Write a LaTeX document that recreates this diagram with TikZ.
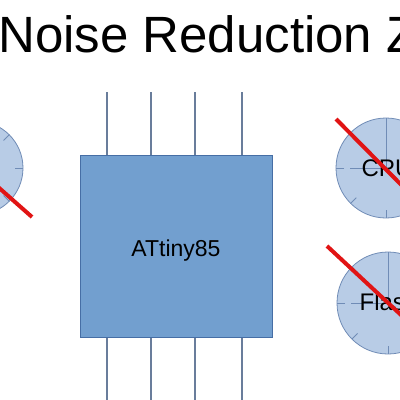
\documentclass[tikz,border=0pt]{standalone}
\usepackage{fontspec}
\setmainfont{Liberation Sans}
\usepackage{tikz}
\usetikzlibrary{positioning,calc}
\definecolor{chipfill}{RGB}{114,159,207}
\definecolor{chipedge}{RGB}{70,110,165}
\definecolor{pinline}{RGB}{105,125,155}
\definecolor{clockfill}{RGB}{184,204,230}
\definecolor{clockedge}{RGB}{112,140,182}
\definecolor{strikered}{RGB}{225,20,20}

\begin{document}
\begin{tikzpicture}[x=1pt, y=-1pt,
    chip/.style={draw=chipedge, fill=chipfill, line width=0.8pt, minimum width=192pt, minimum height=182pt, inner sep=0pt},
    pin/.style={draw=pinline, line width=1.1pt},
    face/.style={circle, draw=clockedge, fill=clockfill, line width=0.8pt, minimum size=100pt, inner sep=0pt},
    hand/.style={draw=clockedge, line width=1pt},
    strike/.style={draw=strikered, line width=4pt},
    every node/.style={text=black}]
    \useasboundingbox (0,0) rectangle (400,400);
    \clip (0,0) rectangle (400,400);

    % Title
    \node[anchor=base west, inner sep=0pt, font=\fontsize{51}{60}\selectfont] (title) at (-2,52) {Noise Reduction Z};

    % Chip
    \foreach \px in {107,151,195,242} {
        \draw[pin] (\px,92) -- (\px,155);
        \draw[pin] (\px,337) -- (\px,405);
    }
    \node[chip] (chip) at (176,246) {};
    \node[anchor=base, inner sep=0pt, font=\fontsize{23}{26}\selectfont] (chipname) at (176,256) {ATtiny85};

    % Clocks
    \node[face, minimum size=94pt] (leftface) at (-24,168) {};
    \node[face] (cpuface) at (386,168) {};
    \node[face, minimum size=102pt] (flashface) at (388,303) {};
    \foreach \f/\r in {leftface/47,cpuface/50,flashface/51} {
        \foreach \a in {0,45,...,315}
            \draw[hand] ($(\f)+(\a:\r-8)$) -- ($(\f)+(\a:\r)$);
        \draw[hand] (\f.center) -- ($(\f)+(0,-\r)$);
        \draw[hand] (\f.center) -- ($(\f)+(-0.72*\r,0)$);
    }
    \node[anchor=base, inner sep=0pt, font=\fontsize{24}{28}\selectfont] (cpu) at (387,176) {CPU};
    \node[anchor=base, inner sep=0pt, font=\fontsize{24}{28}\selectfont] (flash) at (389,310) {Flash};

    % Strike-through
    \draw[strike] ($(leftface)+(-56,-50)$) -- ($(leftface)+(56,49)$);
    \draw[strike] ($(cpuface)+(-50,-49)$) -- ($(cpuface)+(56,58)$);
    \draw[strike] ($(flashface)+(-61,-57)$) -- ($(flashface)+(56,52)$);
\end{tikzpicture}
\end{document}
